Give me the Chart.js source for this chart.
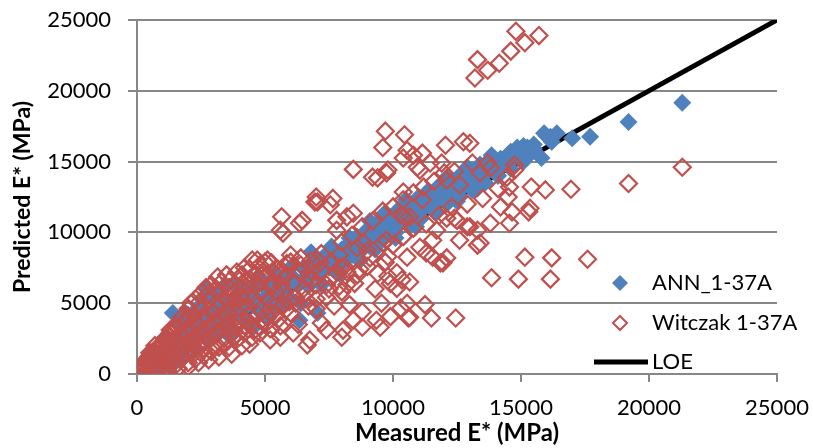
<!DOCTYPE html>
<html>
<head>
<meta charset="utf-8">
<script src="https://cdn.jsdelivr.net/npm/chart.js@4"></script>
<style>
  html, body { margin: 0; padding: 0; background: #fff; }
  #wrap { width: 813px; height: 448px; position: relative; }
</style>
</head>
<body>
<div id="wrap"><canvas id="myChart" width="813" height="448"></canvas></div>
<script>
(function () {
  'use strict';

  // measured vs predicted E* (MPa)
  const annX = [300, 500, 600, 800, 900, 1000, 1200, 1300, 1400, 1400, 1500, 1600, 1700, 1800, 1900, 2000, 2100, 2200, 2400, 2500, 2600, 2700, 2800, 2900, 3000, 3100, 3200, 3300, 3400, 3500, 3650, 3800, 4000, 4100, 4300, 4400, 4600, 4800, 5000, 5200, 5400, 5600, 5800, 6000, 6200, 6350, 6500, 6700, 6900, 7050, 7100, 7300, 7500, 7800, 8000, 8200, 8400, 8600, 8800, 9000, 9200, 9400, 9600, 9800, 10000, 10200, 10400, 10600, 10800, 11000, 11200, 11400, 11600, 11800, 12000, 12200, 12400, 12600, 12800, 13000, 13200, 13400, 13600, 13850, 14000, 14200, 14400, 14600, 14850, 15000, 15250, 15400, 15800, 16000, 16150, 16400, 17000, 17700, 19200, 21300,
    700, 1100, 1600, 2000, 2300, 2600, 3000, 3300, 3600, 3900, 4200, 4500, 4800, 5100, 5400, 5700, 6100, 6400, 6800, 7200, 7600, 7900, 8300, 8700, 9100, 9300, 9700, 10100, 10500, 10900, 11300, 11700, 12100, 12500, 12900, 13300, 13700, 14100, 14500, 15100, 15500, 16200, 15900,
    450, 750, 1000, 1250, 1500, 1750, 2000, 2250, 2500, 2750, 3000, 3250, 3500, 3750, 4000, 4250, 4500, 4750, 5000, 5250, 5500, 5750, 6000, 6250, 6500, 6750, 7000, 7250, 7500, 7750, 8000, 8250, 8500, 8750, 9000, 9250, 9500, 9750, 10000, 10250, 10500, 10750, 11000, 11250, 11500, 11750, 12000, 12250, 12500, 12750, 13000, 13250, 13500, 13750, 14000, 14250, 14500, 14750, 15000, 15250, 15500,
    7600, 8100, 8600, 9100, 9600, 10100, 10600, 11100, 11600, 12100, 12600, 13100, 13600, 14100, 14600, 15100];
  const annY = [100, 400, 900, 300, 1300, 700, 1700, 500, 1200, 4300, 2200, 3600, 1500, 2700, 4300, 1900, 3300, 2400, 4700, 2900, 3700, 6000, 2500, 4400, 5300, 3300, 5900, 3900, 6200, 4600, 3300, 5200, 4300, 5800, 3700, 5000, 6200, 4400, 5400, 6500, 4900, 6000, 7000, 5300, 6600, 3800, 7500, 6200, 8000, 4300, 7000, 8300, 7500, 8600, 7800, 9100, 8400, 9700, 8900, 10200, 9500, 10700, 10000, 11100, 10400, 11600, 10900, 12100, 11300, 12500, 11700, 12900, 12100, 13300, 12500, 13600, 12900, 14000, 13300, 14400, 13700, 14800, 14100, 15450, 14600, 15200, 14900, 15700, 16000, 15300, 15650, 15600, 15250, 16800, 16750, 17000, 16650, 16750, 17800, 19150,
    1600, 2600, 1000, 3900, 1800, 5200, 2600, 4800, 2700, 6300, 4600, 3200, 6800, 3900, 7100, 5000, 7700, 5000, 8600, 6300, 9000, 7100, 9600, 8000, 10800, 8800, 11400, 9600, 12300, 10400, 12800, 11400, 13900, 12200, 14600, 13100, 15000, 14000, 15300, 16100, 15900, 16400, 17000,
    700, 500, 1400, 900, 1800, 2300, 2800, 3200, 3600, 3000, 4000, 3300, 5000, 4000, 5200, 4900, 5600, 5100, 6100, 5600, 6500, 6100, 7000, 6300, 6700, 7300, 7600, 7800, 8200, 8000, 8800, 8600, 9100, 9500, 9300, 10000, 9900, 10400, 10900, 10600, 11300, 11000, 11800, 12200, 11900, 12600, 13000, 12700, 13400, 13700, 13500, 14200, 14000, 14600, 15000, 14700, 15500, 15300, 15900, 16000, 16200,
    7500, 8000, 8500, 9000, 9500, 10000, 10500, 11000, 11500, 12000, 12500, 13000, 13500, 14000, 14500, 15000];

  const witX = [200, 300, 400, 450, 500, 600, 650, 700, 800, 850, 900, 1000, 1000, 1100, 1200, 1200, 1300, 1300, 1400, 1500, 1500, 1600, 1600, 1700, 1700, 1800, 1900, 1900, 2000, 2000, 2100, 2200, 2200, 2300, 2300, 2400, 2500, 2500, 2600, 2600, 2700, 2800, 2800, 2900, 2900, 3000, 3100, 3100, 3150, 3200, 3300, 3300, 3400, 3500, 3600, 3650, 3600, 3700, 3800, 3800, 3900, 4000, 4000,
    4100, 4200, 4200, 4300, 4400, 4500, 4500, 4600, 4700, 4700, 4800, 4900, 5000, 5100, 5100, 5200, 5250, 5300, 5400, 5500, 5600, 5650, 5700, 5600, 5700, 5800, 6000, 6000, 6100, 6200, 6350, 6450, 6400, 6500, 6650, 6750, 6700, 6750, 6800, 6950, 7000, 7050, 7050, 7000, 7150, 7200, 7400, 7400, 7550, 7650, 7600, 7800, 7800, 7900, 7950, 8000, 8050, 8000, 8200, 8200, 8450, 8450, 8450, 8500, 8600, 8800, 8800, 8850, 9000, 9200, 9350, 9400, 9500, 9550, 9600, 9600, 9700, 9750, 9750, 9800, 9800, 9900, 9900,
    10150, 10150, 10300, 10300, 10350, 10400, 10400, 10450, 10450, 10550, 10550, 10550, 10600, 10650, 10650, 10650, 10800, 10950, 11050, 11050, 11150, 11150, 11250, 11300, 11450, 11500, 11550, 11550, 11700, 11850, 11950, 11900, 12050, 12100, 12100, 12100, 12400, 12450, 12500, 12600, 12600, 12750, 12900, 13000, 13000, 13100, 13200, 13300, 13300, 13300, 13400, 13400, 13700, 13700, 13800, 13800, 13850, 14150, 14200, 14450, 14550, 14550, 14600, 14650, 14750, 14750, 14800, 14900, 15150, 15150, 15300, 15350, 15400, 15700, 15950, 16150, 16200, 16950, 17600, 19200, 21300,
    100, 250, 400, 600, 800, 700, 500, 350, 550, 750, 950, 1050, 1150, 1250, 1350, 1450, 1550, 1650, 1750, 1850, 1950, 2050, 2150, 2250, 2350, 2450, 2550, 2650, 2750, 2850, 2950, 3050, 3150, 3250, 3350, 3450, 3550, 3650, 3750, 3850, 3950, 4050, 4150, 4250, 4350, 4450, 4550, 4650, 4750, 4850, 4950, 5050, 5150, 5250, 5350, 5450, 5550, 5650, 5750, 5850, 5950, 6100, 6300, 6400, 6600, 6800, 7000, 7200, 7500, 7700, 7900, 8100, 8300, 8700, 9100, 9300, 9700, 10000, 10400, 10800, 11300, 11800, 12300, 12900, 13500, 14100, 14500,
    150, 300, 450, 600, 750, 900, 1100, 1300, 1500, 1800, 2000, 2100, 2300, 2500, 2700, 2900, 3300, 3500, 3900, 4100, 4400, 4800, 5000, 900, 1200, 1600, 2000, 2400, 2800, 3200, 3600, 4000, 4400, 4800, 5200, 5600, 600, 1000, 1400, 1800, 2200, 2600, 3000, 3400, 3800, 4200, 4600, 5000, 5400, 5800, 6200, 6600, 7000, 7400, 7800, 8200, 8600, 9000, 9400, 9800, 1300, 1700, 2000, 2400, 2800, 3200, 3600, 4000, 4400, 4800, 5200, 5600, 6000, 6400, 6800, 7200, 7600, 8000, 8400, 8800, 9200, 9600, 10000, 10400, 10800, 11200, 11600, 12000, 12400];
  const witY = [300, 800, 200, 1200, 600, 1500, 300, 900, 1800, 500, 1200, 2100, 700, 1500, 2500, 400, 1000, 1900, 2900, 1400, 600, 2300, 3300, 1000, 1800, 2700, 3700, 1400, 800, 2200, 3100, 4100, 1700, 1100, 2600, 3500, 4600, 2000, 1300, 3000, 4000, 5200, 2400, 1600, 3400, 4400, 6000, 2800, 6850, 1900, 3800, 5000, 2200, 4300, 6100, 6650, 3100, 1400, 5300, 2600, 3700, 6600, 4700,
    2000, 7500, 3400, 5600, 4100, 8050, 2600, 6300, 8050, 4800, 3300, 7000, 5600, 8050, 4000, 2400, 7850, 6400, 4800, 7400, 10150, 11100, 9950, 3400, 5800, 6900, 7900, 4300, 2900, 5400, 10650, 10850, 7200, 6000, 2050, 2400, 4800, 6850, 8000, 12150, 12500, 12150, 8050, 6300, 7850, 3600, 3100, 5400, 11950, 12400, 6800, 10150, 10850, 8400, 7550, 2600, 3100, 5800, 11100, 7200, 11350, 14450, 3800, 6400, 8900, 3300, 4400, 9250, 7600, 13900, 3800, 13850, 3300, 5000, 9250, 16000, 17150, 14200, 9450, 14400, 6900, 4050, 6400,
    7150, 6050, 4650, 11250, 6650, 12850, 15250, 16900, 11100, 8250, 5000, 15800, 3950, 4000, 6500, 11100, 15450, 14600, 14400, 8950, 15600, 12300, 4900, 8550, 14900, 3950, 8250, 9450, 10150, 7850, 7850, 14900, 16150, 13700, 8200, 11000, 11000, 3950, 10850, 13350, 9450, 16400, 10400, 16300, 10400, 14900, 20900, 22200, 10150, 9100, 9250, 14200, 21450, 14900, 10650, 14550, 6800, 21950, 11800, 13900, 13200, 10650, 22800, 11450, 14400, 14750, 24200, 6700, 23400, 8250, 11450, 11700, 13200, 23900, 13000, 6700, 8200, 13050, 8100, 13450, 14600,
    100, 600, 900, 300, 1300, 2000, 1500, 500, 1100, 1500, 900, 1700, 2200, 700, 1500, 2400, 1900, 2800, 1300, 2000, 3000, 1600, 2500, 3600, 2000, 2900, 3900, 2300, 3300, 4500, 2700, 3700, 4800, 3100, 4200, 5300, 3500, 4600, 5700, 3300, 4300, 5500, 3900, 6200, 4700, 3500, 5300, 7000, 4200, 5900, 3700, 6900, 5100, 4300, 7200, 5800, 3900, 6300, 4900, 7800, 5100, 6400, 3500, 8200, 5300, 6600, 4600, 7300, 6000, 4800, 6200, 7600, 4900, 7400, 8200, 6000, 7900, 9100, 9700, 10300, 10600, 11200, 11800, 12000, 12400, 13100, 12500,
    500, 900, 1100, 1500, 1800, 2000, 2500, 2900, 3400, 4100, 4600, 5000, 5300, 5700, 6100, 6300, 6500, 7000, 7200, 7000, 7400, 7700, 7900, 300, 200, 400, 500, 800, 1000, 1200, 1900, 2600, 2100, 2900, 3200, 2600, 1000, 1000, 1000, 1200, 1400, 1700, 2000, 2500, 3000, 2900, 3100, 3500, 4100, 4500, 5000, 5700, 5300, 6300, 7200, 6300, 7000, 8700, 7100, 8300, 3100, 3900, 4100, 5000, 5700, 5800, 5300, 6000, 6700, 6500, 6200, 7000, 8400, 7700, 7300, 8500, 7900, 9300, 9800, 10400, 10800, 11500, 11800, 12300, 12800, 13200, 13600, 14200, 14300];

  const loeX = [0, 25000];
  const loeY = [0, 25000];
  const axisTicks = [0, 5000, 10000, 15000, 20000, 25000];

  const seriesNames = ['ANN_1-37A', 'Witczak 1-37A', 'LOE'];
  const blue = '#4F81BD';
  const red = '#C0504D';

  const toPoints = (xs, ys) => xs.map((x, i) => ({ x: x, y: ys[i] }));

  // legend drawn inside the plot, bottom right
  const insideLegend = {
    id: 'insideLegend',
    afterDraw(chart) {
      const ctx = chart.ctx;
      const lx = 620;
      const tx = 652;
      const rows = [283, 323, 362];
      ctx.save();
      ctx.font = '22px Lato';
      ctx.textBaseline = 'middle';

      ctx.fillStyle = blue;
      ctx.beginPath();
      ctx.moveTo(lx, rows[0] - 8);
      ctx.lineTo(lx + 8, rows[0]);
      ctx.lineTo(lx, rows[0] + 8);
      ctx.lineTo(lx - 8, rows[0]);
      ctx.closePath();
      ctx.fill();

      ctx.strokeStyle = red;
      ctx.lineWidth = 2;
      ctx.beginPath();
      ctx.moveTo(lx, rows[1] - 7);
      ctx.lineTo(lx + 7, rows[1]);
      ctx.lineTo(lx, rows[1] + 7);
      ctx.lineTo(lx - 7, rows[1]);
      ctx.closePath();
      ctx.stroke();

      ctx.strokeStyle = '#000';
      ctx.lineWidth = 5;
      ctx.beginPath();
      ctx.moveTo(594, rows[2]);
      ctx.lineTo(648, rows[2]);
      ctx.stroke();

      ctx.fillStyle = '#000';
      ctx.fillText(seriesNames[0], tx, rows[0]);
      ctx.fillText(seriesNames[1], tx, rows[1]);
      ctx.fillText(seriesNames[2], tx, rows[2]);
      ctx.restore();
    }
  };

  const plainTick = (v) => String(v);

  const ctx = document.getElementById('myChart').getContext('2d');
  const myChart = new Chart(ctx, {
    type: 'scatter',
    data: {
      datasets: [
        {
          label: seriesNames[0],
          data: toPoints(annX, annY),
          pointStyle: 'rectRot',
          pointRadius: 9,
          backgroundColor: blue,
          borderColor: blue,
          borderWidth: 0,
          order: 1,
        },
        {
          label: seriesNames[1],
          data: toPoints(witX, witY),
          pointStyle: 'rectRot',
          pointRadius: 8.5,
          backgroundColor: 'rgba(0,0,0,0)',
          borderColor: red,
          borderWidth: 2.2,
          order: 0,
        },
        {
          label: seriesNames[2],
          data: toPoints(loeX, loeY),
          showLine: true,
          borderColor: '#000',
          borderWidth: 5,
          pointRadius: 0,
          order: 2,
        },
      ],
    },
    options: {
      responsive: false,
      animation: false,
      events: [],
      layout: { padding: { top: 20, right: 36, left: 0, bottom: 0 } },
      plugins: {
        legend: { display: false },
        tooltip: { enabled: false },
      },
      scales: {
        x: {
          type: 'linear',
          min: 0,
          max: 25000,
          afterBuildTicks: (s) => { s.ticks = axisTicks.map((v) => ({ value: v })); },
          afterFit: (s) => { s.height = 74; s.paddingLeft = 0; s.paddingRight = 0; },
          grid: { drawOnChartArea: false, drawTicks: true, tickLength: 8, color: '#878787', lineWidth: 2 },
          border: { color: '#878787', width: 2 },
          ticks: { color: '#000', font: { family: 'Lato', size: 22 }, padding: 13, maxRotation: 0, callback: plainTick },
          title: { display: true, text: 'Measured E* (MPa)', color: '#000', font: { family: 'Lato', size: 24, weight: 'bold' }, padding: { top: 0, bottom: 0 } },
        },
        y: {
          type: 'linear',
          min: 0,
          max: 25000,
          afterBuildTicks: (s) => { s.ticks = axisTicks.map((v) => ({ value: v })); },
          afterFit: (s) => { s.width = 137; s.paddingTop = 0; s.paddingBottom = 0; },
          grid: { drawTicks: true, tickLength: 9, color: '#878787', lineWidth: 2 },
          border: { color: '#878787', width: 2 },
          ticks: { color: '#000', font: { family: 'Lato', size: 22 }, padding: 17, callback: plainTick },
          title: { display: true, text: 'Predicted E* (MPa)', color: '#000', font: { family: 'Lato', size: 23, weight: 'bold' }, padding: { top: 9, bottom: 0 } },
        },
      },
    },
    plugins: [insideLegend],
  });
})();
</script>
</body>
</html>
